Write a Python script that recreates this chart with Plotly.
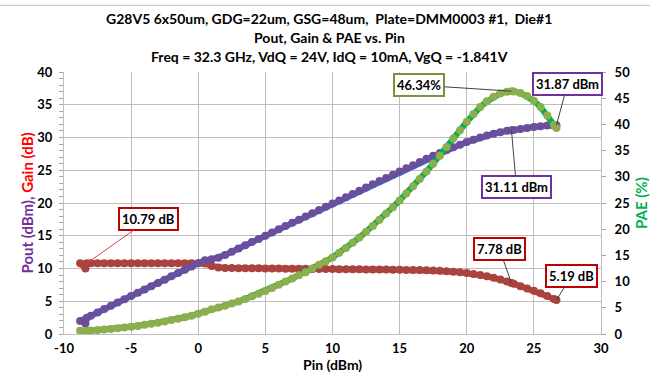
import plotly.graph_objects as go

# ---------------- data ----------------
pin = [-8.4, -8.8, -8.3, -8.0, -7.5, -7.0, -6.5, -6.0, -5.5, -5.0, -4.5, -4.0, -3.5, -3.0,
       -2.5, -2.0, -1.5, -1.0, -0.5, 0.0, 0.5, 1.0, 1.5, 2.0, 2.5, 3.0, 3.5, 4.0, 4.5, 5.0,
       5.5, 6.0, 6.5, 7.0, 7.5, 8.0, 8.5, 9.0, 9.5, 10.0, 10.5, 11.0, 11.5, 12.0, 12.5, 13.0,
       13.5, 14.0, 14.5, 15.0, 15.5, 16.0, 16.5, 17.0, 17.5, 18.0, 18.5, 19.0, 19.5, 20.0,
       20.5, 21.0, 21.5, 22.0, 22.5, 23.0, 23.33, 23.5, 24.0, 24.5, 25.0, 25.5, 26.0, 26.5, 26.68]

pout = [1.6, 2.0, 2.49, 2.8, 3.3, 3.8, 4.3, 4.8, 5.3, 5.8, 6.3, 6.8, 7.3, 7.8,
        8.3, 8.8, 9.3, 9.8, 10.3, 10.8, 11.25, 11.4, 11.65, 12.08, 12.57, 13.05, 13.54, 14.03, 14.52, 15.0,
        15.5, 15.99, 16.48, 16.97, 17.46, 17.95, 18.44, 18.93, 19.42, 19.91, 20.4, 20.89, 21.38, 21.87, 22.36, 22.85,
        23.34, 23.83, 24.32, 24.8, 25.29, 25.78, 26.26, 26.74, 27.2, 27.65, 28.08, 28.5, 28.91, 29.3,
        29.66, 30.0, 30.3, 30.57, 30.82, 31.02, 31.11, 31.16, 31.3, 31.45, 31.6, 31.73, 31.82, 31.85, 31.87]

gain = [10.0, 10.8, 10.79, 10.8, 10.8, 10.8, 10.8, 10.8, 10.8, 10.8, 10.8, 10.8, 10.8, 10.8,
        10.8, 10.8, 10.8, 10.8, 10.8, 10.8, 10.75, 10.4, 10.15, 10.08, 10.07, 10.05, 10.04, 10.03, 10.02, 10.0,
        10.0, 9.99, 9.98, 9.97, 9.96, 9.95, 9.94, 9.93, 9.92, 9.91, 9.9, 9.89, 9.88, 9.87, 9.86, 9.85,
        9.84, 9.83, 9.82, 9.8, 9.79, 9.78, 9.76, 9.74, 9.7, 9.65, 9.58, 9.5, 9.41, 9.3,
        9.16, 9.0, 8.8, 8.57, 8.32, 8.02, 7.78, 7.66, 7.3, 6.95, 6.6, 6.23, 5.82, 5.35, 5.19]

pae = [0.55, 0.6, 0.62, 0.65, 0.75, 0.85, 0.95, 1.1, 1.25, 1.4, 1.55, 1.75, 1.95, 2.15,
       2.4, 2.65, 2.9, 3.2, 3.5, 3.85, 4.25, 4.7, 5.05, 5.4, 5.8, 6.2, 6.7, 7.2, 7.7, 8.2,
       8.8, 9.4, 10.0, 10.6, 11.2, 11.8, 12.5, 13.2, 13.9, 14.6, 15.5, 16.4, 17.4, 18.4, 19.5, 20.6,
       21.8, 23.0, 24.2, 25.5, 26.8, 28.2, 29.6, 31.0, 32.5, 34.0, 35.7, 37.3, 38.9, 40.5,
       42.0, 43.3, 44.4, 45.3, 45.9, 46.25, 46.34, 46.3, 46.0, 45.4, 44.5, 43.3, 41.7, 39.9, 39.3]

x_ticks = [-10, -5, 0, 5, 10, 15, 20, 25, 30]
x_tick_text = ["-10", "-5", "0", "5", "10", "15", "20", "25", "30"]
title_lines = [
    "G28V5 6x50um, GDG=22um, GSG=48um,  Plate=DMM0003 #1,  Die#1",
    "Pout, Gain &amp; PAE vs. Pin",
    "Freq = 32.3 GHz, VdQ = 24V, IdQ = 10mA, VgQ = -1.841V",
]
# (text, x, y, axis, border colour, ax, ay, leader colour)
callouts = [
    ("10.79 dB", -8.3, 10.79, "y", "#C00000", 62, -44, "#E04040"),
    ("7.78 dB", 23.33, 7.78, "y", "#C00000", -12, -34, "#404040"),
    ("5.19 dB", 26.68, 5.19, "y", "#C00000", 15, -24, "#404040"),
    ("31.87 dBm", 26.68, 31.87, "y", "#7030A0", 11, -41, "#404040"),
    ("31.11 dBm", 23.33, 31.11, "y", "#7030A0", 5, 57, "#404040"),
    ("46.34%", 23.33, 46.34, "y2", "#77933C", -92, -6, "#404040"),
]

FONT = "Lato"
fig = go.Figure()

fig.add_trace(go.Scatter(x=pin, y=gain, mode="lines+markers", name="Gain",
                         line=dict(color="#D9534F", width=6),
                         marker=dict(color="#A8433F", size=8, symbol="circle"),
                         yaxis="y"))
fig.add_trace(go.Scatter(x=pin, y=pout, mode="lines+markers", name="Pout",
                         line=dict(color="#1F77D0", width=6),
                         marker=dict(color="#6C4E9C", size=8, symbol="circle"),
                         yaxis="y"))
fig.add_trace(go.Scatter(x=pin, y=pae, mode="lines+markers", name="PAE",
                         line=dict(color="#00B050", width=6),
                         marker=dict(color="#8CAE4C", size=8, symbol="circle"),
                         yaxis="y2"))

grid = "#BDBDBD"
tickfont = dict(family=FONT, size=13, color="black", weight="bold")
fig.update_layout(
    width=650, height=373,
    margin=dict(l=64, r=49, t=72, b=39),
    paper_bgcolor="white", plot_bgcolor="white",
    showlegend=False,
    font=dict(family=FONT, size=13, color="black"),
    xaxis=dict(range=[-10, 30], tickvals=x_ticks, ticktext=x_tick_text, showgrid=True,
               gridcolor=grid, gridwidth=1,
               zeroline=False, showline=True, linecolor=grid, ticks="",
               tickfont=tickfont, ticklabelstandoff=2),
    yaxis=dict(range=[0, 40], dtick=5, showgrid=True, gridcolor=grid, gridwidth=1,
               zeroline=False, showline=True, linecolor=grid,
               ticks="outside", ticklen=4, tickcolor="#A6A6A6",
               minor=dict(dtick=1, ticks="outside", ticklen=4, tickcolor="#A6A6A6", showgrid=False),
               tickfont=tickfont, ticklabelstandoff=4),
    yaxis2=dict(range=[0, 50], dtick=5, overlaying="y", side="right", showgrid=False,
                zeroline=False, showline=True, linecolor=grid,
                ticks="outside", ticklen=4, tickcolor="#A6A6A6",
                tickfont=tickfont, ticklabelstandoff=6),
)

ann = []
# title lines
for txt, py in zip(title_lines, [18, 37, 56]):
    ann.append(dict(text=txt, xref="paper", yref="paper", x=(329 - 63.5) / 537.5,
                    y=(334 - py) / 262.3, xanchor="center", yanchor="middle", showarrow=False,
                    font=dict(family=FONT, size=14, color="black", weight="bold")))
# axis titles
ann.append(dict(text="<span style='color:#7030A0'>Pout (dBm),</span> <span style='color:#FF0000'>Gain (dB)</span>",
                xref="paper", yref="paper", x=(26 - 63.5) / 537.5, y=0.5, textangle=-90,
                xanchor="center", yanchor="middle", showarrow=False,
                font=dict(family=FONT, size=15, weight="bold")))
ann.append(dict(text="PAE (%)", xref="paper", yref="paper", x=(641 - 63.5) / 537.5, y=0.5,
                textangle=-90, xanchor="center", yanchor="middle", showarrow=False,
                font=dict(family=FONT, size=15, color="#00B050", weight="bold")))
ann.append(dict(text="Pin (dBm)", xref="paper", yref="paper", x=0.5, y=(334 - 365) / 262.3,
                xanchor="center", yanchor="middle", showarrow=False,
                font=dict(family=FONT, size=14, color="black", weight="bold")))
# callouts
for txt, xv, yv, yax, bc, axp, ayp, lc in callouts:
    ann.append(dict(text=txt, x=xv, y=yv, xref="x", yref=yax, ax=axp, ay=ayp,
                    showarrow=True, arrowhead=0, arrowwidth=1, arrowcolor=lc, standoff=0,
                    bordercolor=bc, borderwidth=2, borderpad=2, bgcolor="white",
                    font=dict(family=FONT, size=13, color="black", weight="bold")))
fig.update_layout(annotations=ann)

fig.add_shape(type="line", xref="paper", yref="paper", x0=-0.2, x1=1.2,
              y0=(334 - 5) / 262.3, y1=(334 - 5) / 262.3, line=dict(color="#BFBFBF", width=1))

fig.write_html("out.html", config={"displayModeBar": False},
               post_script="document.body.style.margin='0';")
